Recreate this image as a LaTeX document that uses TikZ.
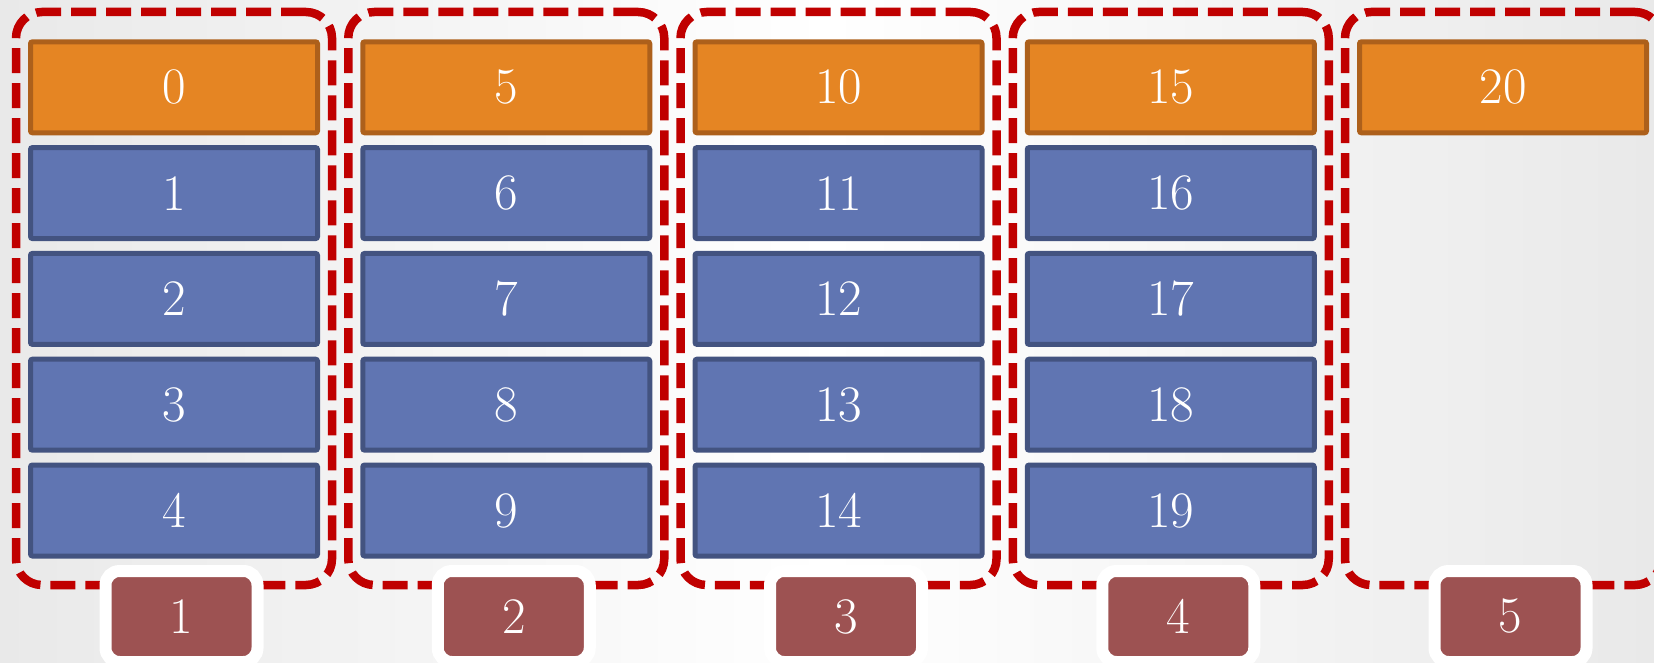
\documentclass[tikz,border=0pt]{standalone}
\definecolor{cellorange}{HTML}{E58523}
\definecolor{cellorangeborder}{HTML}{AD601B}
\definecolor{cellblue}{HTML}{6075B2}
\definecolor{cellblueborder}{HTML}{435380}
\definecolor{labelred}{HTML}{9D5252}
\definecolor{groupred}{HTML}{C00000}
\definecolor{bgedge}{HTML}{E9E9E9}
\newcommand\digitfont{\fontsize{25.6pt}{30pt}\selectfont}
\begin{document}
\begin{tikzpicture}[x=0.5pt,y=-0.5pt,
  cell/.style={rectangle, rounded corners=1pt, line width=2.5pt, minimum width=143.5pt, minimum height=45.5pt, inner sep=0pt, text=white, font=\digitfont},
  headcell/.style={cell, fill=cellorange, draw=cellorangeborder},
  bodycell/.style={cell, fill=cellblue, draw=cellblueborder},
  grp/.style={rectangle, draw=groupred, line width=4.25pt, dash pattern=on 12.5pt off 5pt, rounded corners=13pt, minimum width=158pt, minimum height=286.5pt, inner sep=0pt},
  lbl/.style={rectangle, fill=labelred, draw=white, line width=6pt, rounded corners=7pt, minimum width=76pt, minimum height=45.5pt, inner sep=0pt, text=white, font=\digitfont}]
\useasboundingbox (0,0) rectangle (1654,663);
\shade[left color=bgedge, right color=bgedge, middle color=white] (0,0) rectangle (1654,663);
% dashed groups
\foreach \c in {0,...,4}{
  \pgfmathsetmacro\cx{174+332.25*\c}
  \pgfmathtruncatemacro\k{\c+1}
  \node[grp] (g\k) at (\cx,298.5) {};
}
% header cells
\foreach \c in {0,...,4}{
  \pgfmathsetmacro\cx{174+332.25*\c}
  \pgfmathtruncatemacro\n{5*\c}
  \node[headcell] (b\n) at (\cx,87.3) {\n};
}
% body cells
\foreach \c in {0,...,3}{
  \foreach \r in {1,...,4}{
    \pgfmathsetmacro\cx{174+332.25*\c}
    \pgfmathsetmacro\cy{87.3+105.8*\r}
    \pgfmathtruncatemacro\n{5*\c+\r}
    \node[bodycell] (b\n) at (\cx,\cy) {\n};
  }
}
% labels
\foreach \c in {0,...,4}{
  \pgfmathsetmacro\cx{181.5+332.25*\c}
  \pgfmathtruncatemacro\k{\c+1}
  \node[lbl] (l\k) at (\cx,616.5) {\k};
}
\end{tikzpicture}
\end{document}
